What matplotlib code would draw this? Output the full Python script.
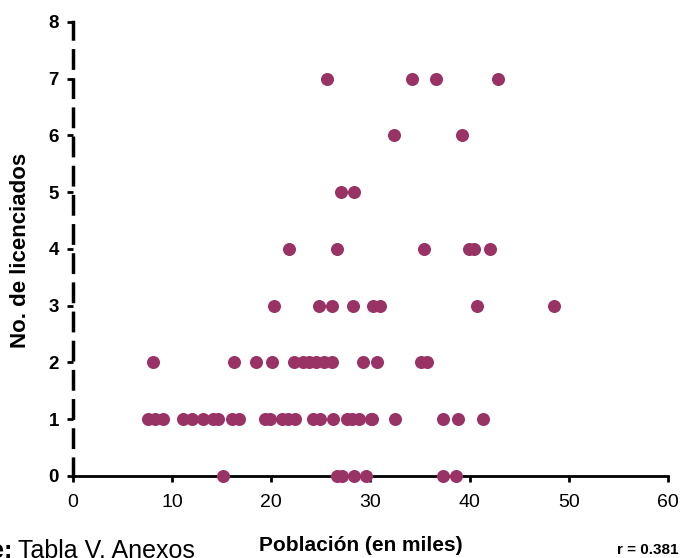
import matplotlib
matplotlib.use('Agg')
import matplotlib.pyplot as plt

plt.rcParams['font.family'] = ['Liberation Sans', 'DejaVu Sans']

# poblacion (miles) y no. de licenciados
poblacion_0 = [15.1, 26.6, 27.1, 28.3, 29.5, 37.3, 38.6]
poblacion_1 = [7.6, 8.3, 9.1, 11.1, 12.0, 13.1, 14.1, 14.6, 16.0, 16.7, 19.4, 19.9,
               21.1, 21.7, 22.4, 24.2, 24.9, 26.2, 27.6, 28.1, 28.8, 30.1, 30.2,
               32.5, 37.3, 38.8, 41.3]
poblacion_2 = [8.1, 16.2, 18.5, 20.1, 22.3, 23.2, 23.8, 24.5, 25.3, 26.1, 29.2,
               30.7, 35.1, 35.7]
poblacion_3 = [20.3, 24.8, 26.1, 28.2, 30.3, 31.0, 40.7, 48.5]
poblacion_4 = [21.8, 26.6, 35.4, 39.9, 40.4, 42.0]
poblacion_5 = [27.0, 28.3]
poblacion_6 = [32.4, 39.2]
poblacion_7 = [25.6, 34.2, 36.6, 42.9]

grupos = [poblacion_0, poblacion_1, poblacion_2, poblacion_3,
          poblacion_4, poblacion_5, poblacion_6, poblacion_7]
x = []
y = []
for n, g in enumerate(grupos):
    x += g
    y += [n] * len(g)

fig = plt.figure(figsize=(6.81, 5.58), dpi=100)
ax = fig.add_axes([0.107, 0.147, 0.874, 0.814])

ax.scatter(x, y, s=88, color='#993366', zorder=3, clip_on=False, linewidths=0)

ax.set_xlim(0, 60)
ax.set_ylim(0, 8)
ax.set_xticks(range(0, 61, 10))
ax.set_yticks(range(0, 9))

for s in ['top', 'right']:
    ax.spines[s].set_visible(False)
ax.spines['bottom'].set_linewidth(2)
ax.spines['left'].set_linewidth(2.5)
ax.spines['left'].set_linestyle((0, (5, 3.4)))

ax.tick_params(axis='x', direction='out', length=4, width=2, labelsize=14, pad=9)
ax.tick_params(axis='y', direction='out', length=4, width=2, labelsize=13.5, pad=6)
for lab in ax.get_yticklabels():
    lab.set_fontweight('bold')

fig.text(0.03, 0.552, 'No. de licenciados', rotation=90, ha='center', va='center',
         fontsize=16, fontweight='bold')
fig.text(0.53, 0.022, 'Población (en miles)', ha='center', va='center',
         fontsize=15, fontweight='bold')
fig.text(0.996, 0.014, 'r = 0.381', ha='right', va='center', fontsize=11, fontweight='bold')
fig.text(0.018, 0.012, 'Fuente:', ha='right', va='center', fontsize=18, fontweight='bold')
fig.text(0.027, 0.012, 'Tabla V. Anexos', ha='left', va='center', fontsize=18)

fig.savefig('out.png', dpi=100)
